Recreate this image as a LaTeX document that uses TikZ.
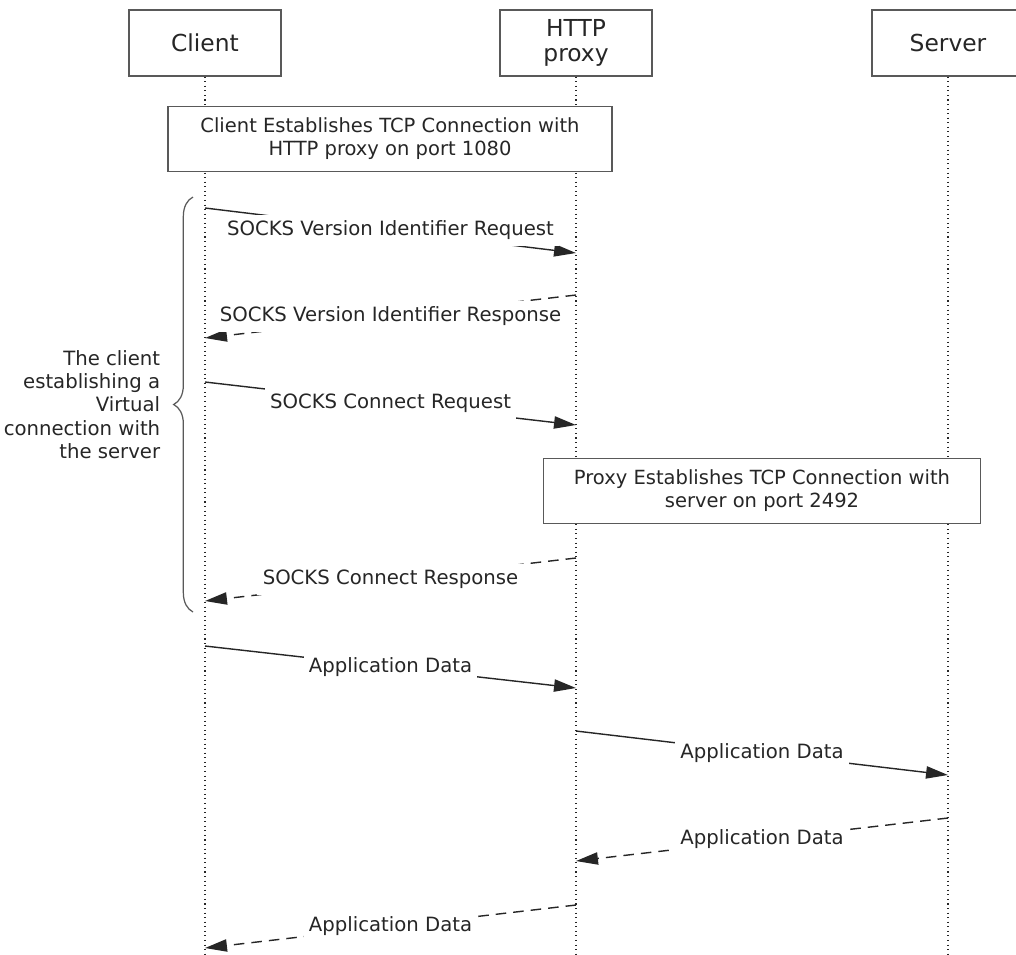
\documentclass[tikz,border=0pt]{standalone}
\usepackage{fontspec}
\setmainfont{DejaVu Sans}
\usetikzlibrary{arrows.meta,decorations.pathreplacing}

\begin{document}
\begin{tikzpicture}[x=0.02cm,y=-0.02cm,
	actor/.style={draw=black!65,line width=0.7pt,fill=white,align=center,minimum width=3.04cm,minimum height=1.32cm,font=\fontsize{13.3}{14}\selectfont},
	note/.style={draw=black!65,line width=0.7pt,fill=white,align=center,minimum height=1.3cm,font=\fontsize{11.1}{13}\selectfont},
	life/.style={dotted,line width=0.6pt},
	msg/.style={line width=0.8pt,-{Triangle[length=12.5pt,width=7pt]}},
	reply/.style={msg,dash pattern=on 6pt off 4pt},
	lbl/.style={midway,fill=white,inner xsep=3pt,inner ysep=3.5pt,font=\fontsize{11.2}{13}\selectfont}]
	\useasboundingbox (0,0) rectangle (1016,954);
	\color{black!85}
	%
	\node[actor] (client) at (205,43) {Client};
	\node[actor] (proxy) at (576,43) {HTTP\\proxy};
	\node[actor] (server) at (948,43) {Server};
	
	% lifelines
	\foreach \who in {client,proxy,server}
	\draw[life] (\who.south) -- (\who.south |- 0,954);
	
	% connection setup
	\node[note,minimum width=8.88cm] (tcp1) at (390,139) {Client Establishes TCP Connection with\\HTTP proxy on port 1080};
	\node[note,minimum width=8.74cm] (tcp2) at (762,491) {Proxy Establishes TCP Connection with\\server on port 2492};
	
	% message ends
	\coordinate (c1) at (205,208); \coordinate (p1) at (576,253);
	\coordinate (p2) at (576,295); \coordinate (c2) at (205,338);
	\coordinate (c3) at (205,382); \coordinate (p3) at (576,425);
	\coordinate (p4) at (576,558); \coordinate (c4) at (205,601);
	\coordinate (c5) at (205,646); \coordinate (p5) at (576,688);
	\coordinate (p6) at (576,731); \coordinate (s6) at (948,775);
	\coordinate (s7) at (948,818); \coordinate (p7) at (576,861);
	\coordinate (p8) at (576,905); \coordinate (c8) at (205,948);
	
	\draw[msg] (c1) -- (p1) node[lbl] {SOCKS Version Identifier Request};
	\draw[reply] (p2) -- (c2) node[lbl] {SOCKS Version Identifier Response};
	\draw[msg] (c3) -- (p3) node[lbl] {SOCKS Connect Request};
	\draw[reply] (p4) -- (c4) node[lbl] {SOCKS Connect Response};
	\draw[msg] (c5) -- (p5) node[lbl] {Application Data};
	\draw[msg] (p6) -- (s6) node[lbl] {Application Data};
	\draw[reply] (s7) -- (p7) node[lbl] {Application Data};
	\draw[reply] (p8) -- (c8) node[lbl] {Application Data};
	
	% brace
	\coordinate (b1) at (193,612);
	\coordinate (b2) at (193,197);
	\draw[black!65,line width=0.7pt,decorate,decoration={brace,amplitude=11pt}] (b1) -- (b2)
		node[midway,left=15pt,align=right,text=black!85,font=\fontsize{11.2}{13.3}\selectfont] (virt) {The client\\establishing a\\Virtual\\connection with\\the server};
\end{tikzpicture}
\end{document}
